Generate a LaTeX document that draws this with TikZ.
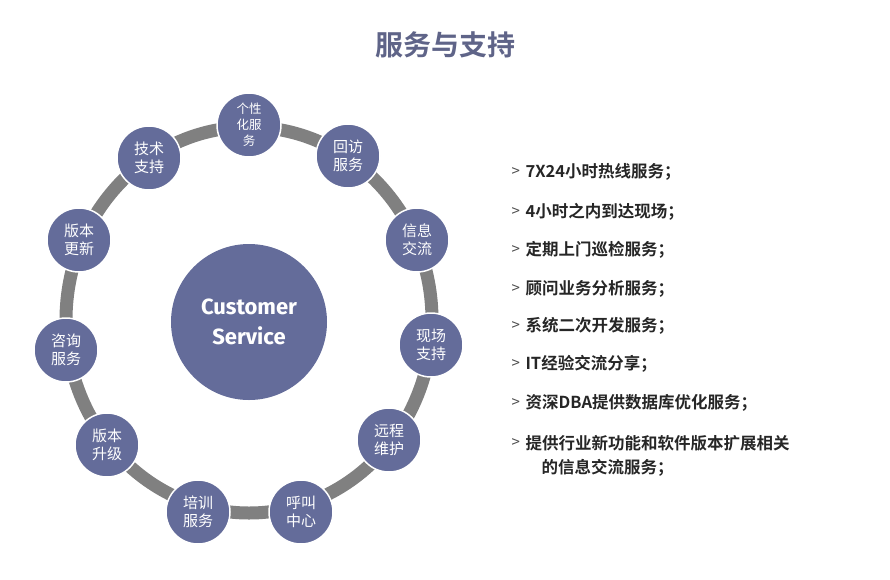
\documentclass[tikz,border=0pt]{standalone}
\usepackage{fontspec}
\setmainfont{Noto Sans CJK SC}[BoldFont={Noto Sans CJK SC Bold}]
\setsansfont{Fira Sans}
\begin{document}
\begin{tikzpicture}[x=1pt,y=-1pt,
 sat/.style={circle,fill=nodeblue,draw=white,line width=1.5pt,minimum size=64pt,inner sep=0pt,text=white,font=\fontsize{15}{18}\selectfont,align=center},
 item/.style={anchor=west,font=\bfseries\fontsize{16.5}{19}\selectfont,text=black!85,align=left},
 arr/.style={anchor=west,font=\fontsize{15}{16}\selectfont,text=black!70}]
\definecolor{nodeblue}{HTML}{646C9A}
\definecolor{titlec}{HTML}{5F6488}
\useasboundingbox (0,0) rectangle (890,579);
\node (title) at (445,45) {\fontsize{28}{32}\selectfont\bfseries\color{titlec}服务与支持};
\draw[line width=13pt,color=black!50] (249,320) ellipse (183 and 193);
\node[sat,minimum size=156pt,font=\sffamily\bfseries\fontsize{22}{30}\selectfont,line width=0pt,draw=none] (c) at (249,322) {Customer\\Service};
\node[sat,font=\fontsize{12.5}{16}\selectfont] (n1) at (249,125) {个性\\化服\\务};
\node[sat] (n2) at (348,156) {回访\\服务};
\node[sat] (n3) at (417,240) {信息\\交流};
\node[sat] (n4) at (431,345) {现场\\支持};
\node[sat] (n5) at (389,440) {远程\\维护};
\node[sat] (n6) at (301,512) {呼叫\\中心};
\node[sat] (n7) at (198,512) {培训\\服务};
\node[sat] (n8) at (107,445) {版本\\升级};
\node[sat] (n9) at (66,350) {咨询\\服务};
\node[sat] (n10) at (79,240) {版本\\更新};
\node[sat] (n11) at (149,158) {技术\\支持};
\foreach \y/\t [count=\i] in {172/7X24小时热线服务；,212/4小时之内到达现场；,250/定期上门巡检服务；,289/顾问业务分析服务；,326/系统二次开发服务；,364/IT经验交流分享；,403/资深DBA提供数据库优化服务；,443/提供行业新功能和软件版本扩展相关}{
 \node[arr] (a\i) at (508,\y) {>};
 \node[item] (t\i) at (522,\y) {\t};
}
\node[item] (t9) at (538,468) {的信息交流服务；};
\end{tikzpicture}
\end{document}
